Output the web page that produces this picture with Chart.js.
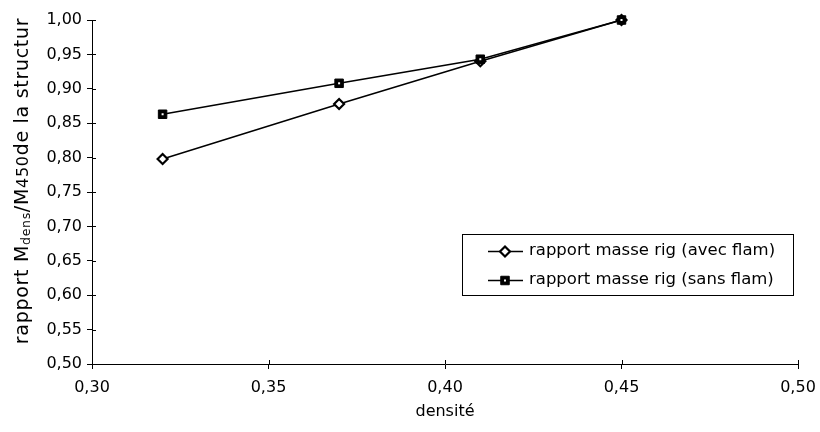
<!DOCTYPE html>
<html>
<head>
<meta charset="utf-8">
<script src="https://cdn.jsdelivr.net/npm/chart.js@4.4.1/dist/chart.umd.min.js"></script>
<style>
  html, body { margin: 0; padding: 0; background: #fff; }
  #wrap { width: 820px; height: 432px; }
</style>
</head>
<body>
<div id="wrap"><canvas id="chart"></canvas></div>
<script>
// data
const densite = [0.32, 0.37, 0.41, 0.45];
const avecFlam = [0.798, 0.878, 0.940, 1.00];
const sansFlam = [0.863, 0.908, 0.943, 1.00];
const seriesNames = ['rapport masse rig (avec flam)', 'rapport masse rig (sans flam)'];
const xTicks = [0.30, 0.35, 0.40, 0.45, 0.50];
const yTicks = [0.50, 0.55, 0.60, 0.65, 0.70, 0.75, 0.80, 0.85, 0.90, 0.95, 1.00];
const xTitle = 'densité';
// y title pieces: normal, subscript, normal, small, normal
const yTitle = ['rapport M', 'dens', '/M', '450', 'de la structur'];

const FONT = '"DejaVu Sans", Verdana, sans-serif';
const INK = '#000';
const fmt = v => Number(v).toFixed(2).replace('.', ',');

const toPoints = ys => densite.map((x, i) => ({ x: x, y: ys[i] }));

// crossing tick marks, axis titles, in-plot legend
const decorations = {
    id: 'decorations',
    afterDatasetsDraw(chart) {
        const ctx = chart.ctx;
        const area = chart.chartArea;
        const xs = chart.scales.x, ys = chart.scales.y;
        ctx.save();
        ctx.strokeStyle = INK;
        ctx.lineWidth = 1;

        // inner half of the tick marks
        ctx.beginPath();
        xTicks.forEach(v => {
            const px = Math.round(xs.getPixelForValue(v)) + 0.5;
            ctx.moveTo(px, area.bottom);
            ctx.lineTo(px, area.bottom - 4);
        });
        yTicks.forEach(v => {
            const py = Math.round(ys.getPixelForValue(v)) + 0.5;
            ctx.moveTo(area.left, py);
            ctx.lineTo(area.left + 4, py);
        });
        ctx.stroke();

        // white dot inside the square markers
        const meta = chart.getDatasetMeta(1);
        ctx.fillStyle = '#fff';
        meta.data.forEach(pt => ctx.fillRect(pt.x - 1, pt.y - 1, 2, 2));

        // x title
        ctx.fillStyle = INK;
        ctx.font = '16px ' + FONT;
        ctx.textAlign = 'center';
        ctx.textBaseline = 'middle';
        ctx.fillText(xTitle, (area.left + area.right) / 2, 412);

        // y title with subscripts
        const sizes = [19, 12.5, 19, 16, 19];
        const shifts = [0, 4, 0, 1, 0];
        ctx.letterSpacing = '0.7px';
        let total = 0;
        yTitle.forEach((t, i) => { ctx.font = sizes[i] + 'px ' + FONT; total += ctx.measureText(t).width; });
        ctx.translate(23, 181);
        ctx.rotate(-Math.PI / 2);
        ctx.textAlign = 'left';
        let cx = -total / 2;
        yTitle.forEach((t, i) => {
            ctx.font = sizes[i] + 'px ' + FONT;
            ctx.fillText(t, cx, shifts[i]);
            cx += ctx.measureText(t).width;
        });
        ctx.setTransform(1, 0, 0, 1, 0, 0);
        ctx.letterSpacing = '0px';

        // legend box
        const bx = 462, by = 234, bw = 331, bh = 61;
        ctx.fillStyle = '#fff';
        ctx.fillRect(bx, by, bw, bh);
        ctx.lineWidth = 1;
        ctx.strokeRect(bx + 0.5, by + 0.5, bw, bh);
        const rows = [251, 280];
        chart.data.datasets.forEach((ds, i) => {
            const y = rows[i] + 0.5;
            ctx.lineWidth = 1.5;
            ctx.strokeStyle = INK;
            ctx.beginPath();
            ctx.moveTo(488, y);
            ctx.lineTo(523, y);
            ctx.stroke();
            ctx.fillStyle = ds.pointBackgroundColor;
            ctx.lineWidth = ds.pointBorderWidth;
            ctx.beginPath();
            if (ds.pointStyle === 'rect') {
                const s = ds.pointRadius * Math.SQRT1_2;
                ctx.rect(505 - s, y - s, 2 * s, 2 * s);
                ctx.fill(); ctx.stroke();
                ctx.fillStyle = '#fff';
                ctx.fillRect(504, y - 1, 2, 2);
            } else {
                const r = ds.pointRadius;
                ctx.moveTo(505, y - r); ctx.lineTo(505 + r, y);
                ctx.lineTo(505, y + r); ctx.lineTo(505 - r, y);
                ctx.closePath();
                ctx.fill(); ctx.stroke();
            }
            ctx.fillStyle = INK;
            ctx.font = '16.5px ' + FONT;
            ctx.textAlign = 'left';
            ctx.textBaseline = 'middle';
            ctx.fillText(ds.label, 529, rows[i]);
        });
        ctx.restore();
    }
};

new Chart(document.getElementById('chart'), {
    type: 'line',
    data: {
        datasets: [{
            label: seriesNames[0],
            data: toPoints(avecFlam),
            order: 1,
            clip: false,
            borderColor: INK,
            borderWidth: 1.5,
            pointStyle: 'rectRot',
            pointRadius: 5,
            pointBorderWidth: 2.2,
            pointBackgroundColor: '#fff',
            pointBorderColor: INK,
            tension: 0
        }, {
            label: seriesNames[1],
            data: toPoints(sansFlam),
            order: 0,
            clip: false,
            borderColor: INK,
            borderWidth: 1.5,
            pointStyle: 'rect',
            pointRadius: 6,
            pointBorderWidth: 1,
            pointBackgroundColor: INK,
            pointBorderColor: INK,
            tension: 0
        }]
    },
    options: {
        responsive: true,
        maintainAspectRatio: false,
        animation: false,
        layout: { padding: { top: 20, right: 22, left: 0, bottom: 0 } },
        plugins: {
            legend: { display: false },
            tooltip: { enabled: false }
        },
        scales: {
            x: {
                type: 'linear',
                min: 0.30,
                max: 0.50,
                afterFit: s => { s.height = 68; s.paddingLeft = 0; s.paddingRight = 0; },
                afterBuildTicks: s => { s.ticks = xTicks.map(v => ({ value: v })); },
                border: { display: true, color: INK, width: 1 },
                grid: { drawOnChartArea: false, drawTicks: true, tickLength: 5, color: INK },
                ticks: {
                    padding: 9,
                    color: INK,
                    font: { family: FONT, size: 16 },
                    maxRotation: 0,
                    callback: v => fmt(v)
                }
            },
            y: {
                type: 'linear',
                min: 0.50,
                max: 1.00,
                afterFit: s => { s.width = 92; s.paddingTop = 0; s.paddingBottom = 0; },
                afterBuildTicks: s => { s.ticks = yTicks.map(v => ({ value: v })); },
                border: { display: true, color: INK, width: 1 },
                grid: { drawOnChartArea: false, drawTicks: true, tickLength: 5, color: INK },
                ticks: {
                    padding: 5,
                    color: INK,
                    font: { family: FONT, size: 16 },
                    callback: v => fmt(v)
                }
            }
        }
    },
    plugins: [decorations]
});
</script>
</body>
</html>
